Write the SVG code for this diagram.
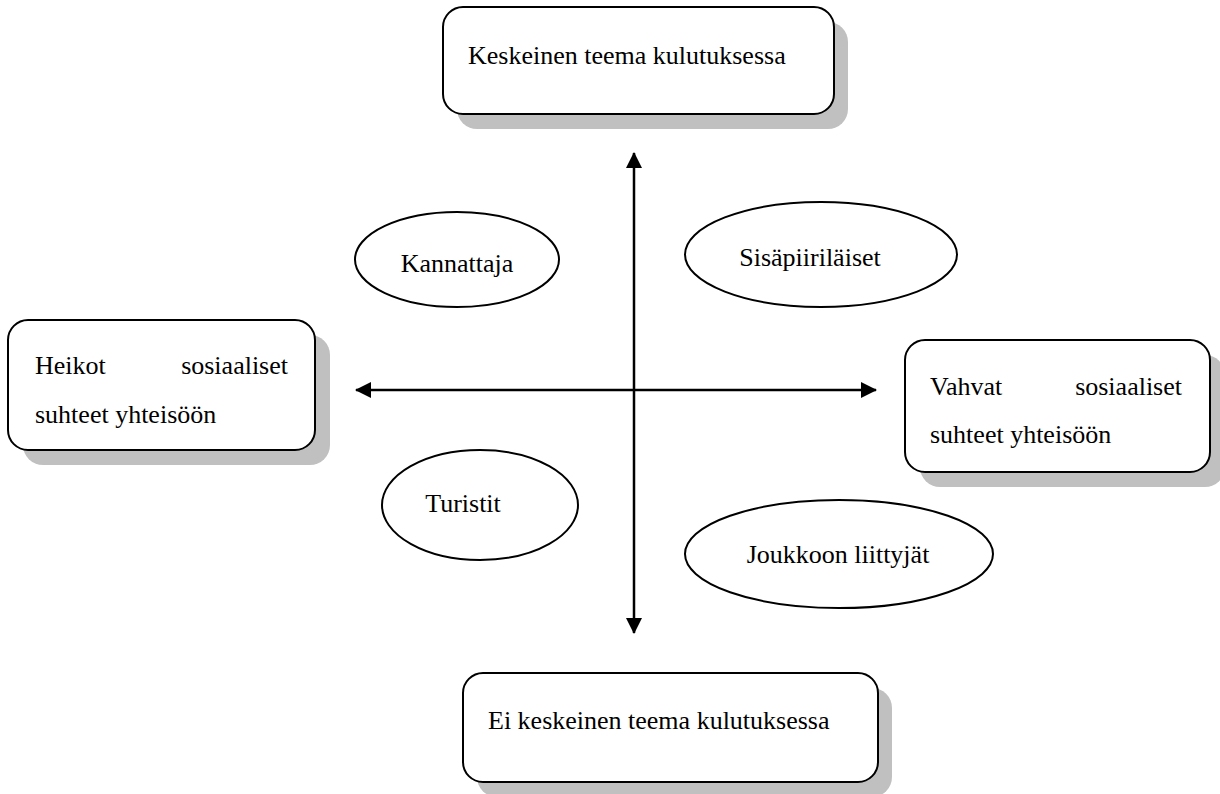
<svg xmlns="http://www.w3.org/2000/svg" width="1220" height="794" viewBox="0 0 1220 794">
<style>
.box{fill:#fff;stroke:#000;stroke-width:2}
.shadow{fill:#c0c0c0;stroke:none}
.ell{fill:#fff;stroke:#000;stroke-width:2}
.t{font-family:"Liberation Serif","Times New Roman",serif;font-size:26px;fill:#000}
.ax{stroke:#000;stroke-width:2.5;fill:none}
</style>
<defs>
<marker id="ah" viewBox="0 0 16 16" refX="15" refY="8" markerWidth="16" markerHeight="16" markerUnits="userSpaceOnUse" orient="auto-start-reverse">
<path d="M0,0 L16,8 L0,16 Z" fill="#000"/>
</marker>
</defs>
<rect width="1220" height="794" fill="#fff"/>
<g id="connectors">
<line class="ax" x1="634" y1="153" x2="634" y2="633" marker-start="url(#ah)" marker-end="url(#ah)"/>
<line class="ax" x1="356" y1="390" x2="876" y2="390" marker-start="url(#ah)" marker-end="url(#ah)"/>
</g>
<g id="top">
<rect class="shadow" x="457" y="22" width="391" height="107" rx="20"/>
<rect class="box" x="443" y="7" width="391" height="107" rx="20"/>
<text class="t" x="468" y="64">Keskeinen teema kulutuksessa</text>
</g>
<g id="left">
<rect class="shadow" x="23" y="335" width="307" height="130" rx="20"/>
<rect class="box" x="8" y="320" width="307" height="130" rx="20"/>
<text class="t" x="35" y="374">Heikot</text>
<text class="t" x="288" y="374" text-anchor="end">sosiaaliset</text>
<text class="t" x="35" y="423">suhteet yhteisöön</text>
</g>
<g id="right">
<rect class="shadow" x="920" y="355" width="305" height="132" rx="20"/>
<rect class="box" x="905" y="340" width="305" height="132" rx="20"/>
<text class="t" x="930" y="395">Vahvat</text>
<text class="t" x="1182" y="395" text-anchor="end">sosiaaliset</text>
<text class="t" x="930" y="443">suhteet yhteisöön</text>
</g>
<g id="bottom">
<rect class="shadow" x="477" y="688" width="415" height="109" rx="20"/>
<rect class="box" x="463" y="673" width="415" height="109" rx="20"/>
<text class="t" x="488" y="729">Ei keskeinen teema kulutuksessa</text>
</g>
<g id="kannattaja">
<ellipse class="ell" cx="457" cy="259.5" rx="102" ry="47.5"/>
<text class="t" x="457" y="272" text-anchor="middle">Kannattaja</text>
</g>
<g id="sisapiirilaiset">
<ellipse class="ell" cx="821" cy="254.5" rx="136" ry="52.5"/>
<text class="t" x="810" y="266" text-anchor="middle">Sisäpiiriläiset</text>
</g>
<g id="turistit">
<ellipse class="ell" cx="480" cy="505" rx="98" ry="55"/>
<text class="t" x="463" y="512" text-anchor="middle">Turistit</text>
</g>
<g id="joukkoon">
<ellipse class="ell" cx="839" cy="554" rx="154" ry="54"/>
<text class="t" x="838" y="563" text-anchor="middle">Joukkoon liittyjät</text>
</g>
</svg>
